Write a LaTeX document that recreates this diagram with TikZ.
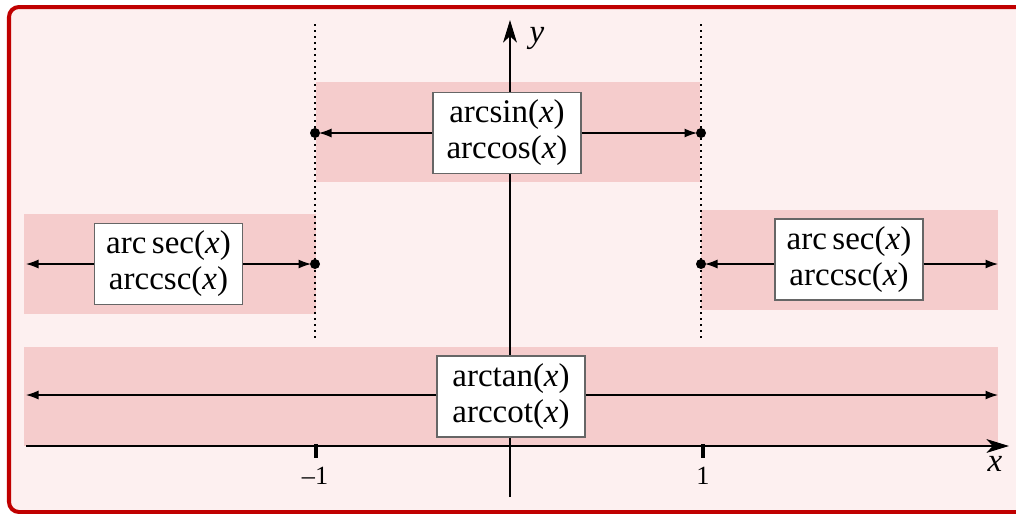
\documentclass[tikz,border=0pt]{standalone}
\usepackage{fontspec}
\setmainfont{Liberation Serif}
\usetikzlibrary{arrows.meta}
\definecolor{bgpink}{HTML}{FDF0F0}
\definecolor{bandpink}{HTML}{F5CCCC}
\definecolor{framered}{HTML}{C00000}
\tikzset{
  fbox/.style={draw=black!60, line width=0.5pt, fill=white, align=center,
    minimum width=59.2pt, minimum height=32.4pt, inner sep=2pt,
    font=\fontsize{13.2}{14.4}\selectfont},
  band/.style={fill=bandpink, draw=none},
  arr/.style={-{Latex[length=5pt,width=3.6pt]}, line width=0.45pt},
  axisarr/.style={-{Stealth[length=9pt,width=5.5pt,inset=2.5pt]}, line width=0.8pt},
  dotline/.style={line width=0.6pt, dash pattern=on 0.9pt off 1.5pt},
  tickmark/.style={line width=1.5pt},
  dotmark/.style={fill=black, circle, inner sep=0pt, minimum size=4pt},
  lbl/.style={font=\fontsize{13.2}{14.4}\selectfont\itshape},
  ticklbl/.style={font=\fontsize{10.5}{12}\selectfont}
}
\begin{document}
\begin{tikzpicture}[x=0.4pt,y=-0.4pt]
\useasboundingbox (0,0) rectangle (1016,514);
% frame
\draw[fill=bgpink, draw=framered, line width=1.6pt, rounded corners=4pt] (9,7) rectangle (1040,512);
% bands
\fill[band] (316,82) rectangle (700,182);
\fill[band] (24,214) rectangle (316,314);
\fill[band] (701,210) rectangle (998,310);
\fill[band] (24,347) rectangle (998,446);
% dotted verticals
\coordinate (dlt) at (315,24);
\coordinate (dlb) at (315,342);
\coordinate (drt) at (701,24);
\coordinate (drb) at (701,342);
\draw[dotline] (dlt) -- (dlb);
\draw[dotline] (drt) -- (drb);
% axes
\coordinate (xs) at (26,446);
\coordinate (xe) at (1009,446);
\coordinate (ys) at (510,497);
\coordinate (ye) at (510,20);
\draw[axisarr] (xs) -- (xe);
\draw[axisarr] (ys) -- (ye);
\node[lbl] (ylab) at (537,38) {y};
\node[lbl] (xlab) at (995,464) {x};
% ticks
\coordinate (tma) at (316,444);
\coordinate (tmb) at (316,458);
\coordinate (tpa) at (703,444);
\coordinate (tpb) at (703,458);
\draw[tickmark] (tma) -- (tmb);
\draw[tickmark] (tpa) -- (tpb);
\node[ticklbl] (tml) at (315,476) {–1};
\node[ticklbl] (tpl) at (703,476) {1};
% coordinates for arrow ends
\coordinate (tdl) at (315,133);
\coordinate (tdr) at (701,133);
\coordinate (lend) at (26,264);
\coordinate (ldot) at (315,264);
\coordinate (rdot) at (701,264);
\coordinate (rend) at (998,264);
\coordinate (bl) at (26,395);
\coordinate (br) at (998,395);
% boxes
\node[fbox] (top) at (507,133) {arcsin(\textit{x})\\arccos(\textit{x})};
\node[fbox] (left) at (168.5,264) {arc\,sec(\textit{x})\\arccsc(\textit{x})};
\node[fbox] (right) at (849,259.5) {arc\,sec(\textit{x})\\arccsc(\textit{x})};
\node[fbox] (bot) at (511,396.5) {arctan(\textit{x})\\arccot(\textit{x})};
% arrows
\draw[arr, shorten >=1.6pt] (top.west) -- (tdl);
\draw[arr, shorten >=1.6pt] (top.east) -- (tdr);
\draw[arr] (left.west) -- (lend);
\draw[arr, shorten >=1.6pt] (left.east) -- (ldot);
\draw[arr, shorten >=1.6pt] (right.west |- rdot) -- (rdot);
\draw[arr] (right.east |- rend) -- (rend);
\draw[arr] (bot.west |- bl) -- (bl);
\draw[arr] (bot.east |- br) -- (br);
% dots
\node[dotmark] (d1) at (tdl) {};
\node[dotmark] (d2) at (tdr) {};
\node[dotmark] (d3) at (ldot) {};
\node[dotmark] (d4) at (rdot) {};
\end{tikzpicture}
\end{document}
